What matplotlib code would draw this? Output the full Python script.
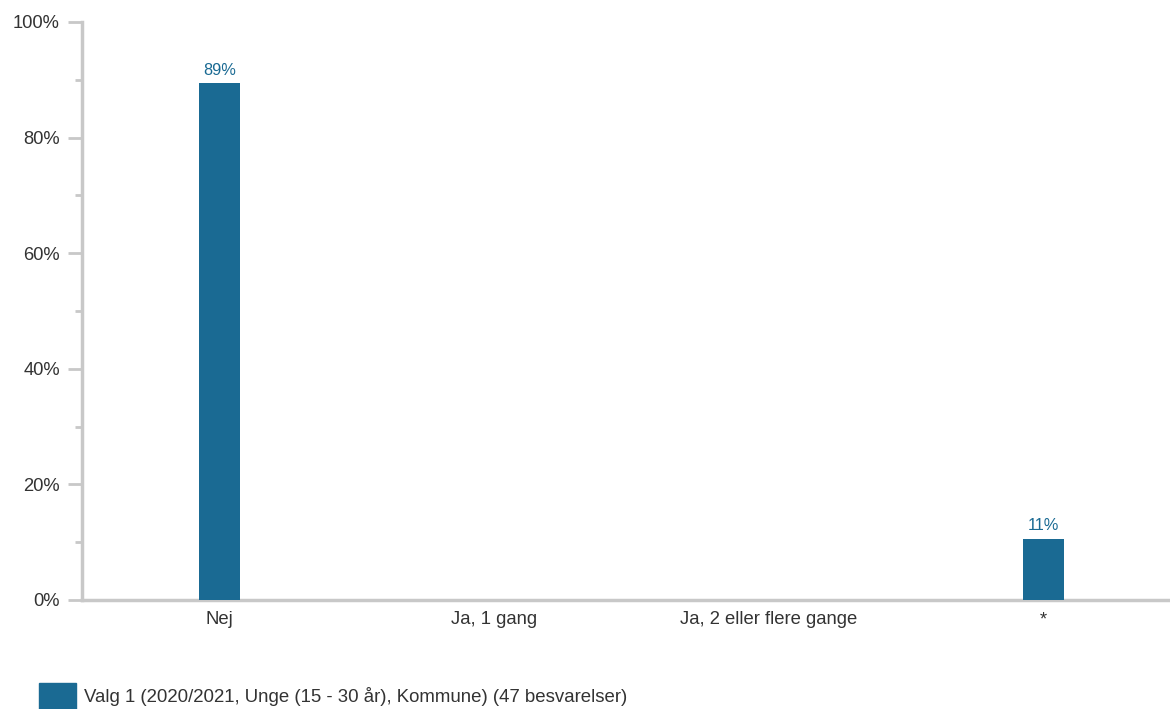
import matplotlib
matplotlib.use("Agg")
import matplotlib.pyplot as plt
from matplotlib.patches import Rectangle
from matplotlib.ticker import MultipleLocator, FuncFormatter

categories = ["Nej", "Ja, 1 gang", "Ja, 2 eller flere gange", "*"]
values = [89.36, 0, 0, 10.64]
labels = ["89%", None, None, "11%"]
series_name = "Valg 1 (2020/2021, Unge (15 - 30 år), Kommune) (47 besvarelser)"

bar_color = "#1a6a93"
axis_color = "#c8c8c8"
text_color = "#333333"

plt.rcParams['font.family'] = ['Liberation Sans', 'DejaVu Sans']

W, H = 1170, 709
fig = plt.figure(figsize=(W / 100, H / 100), dpi=100)
left, right, top, bottom = 82, 1181, 22, 600
ax = fig.add_axes([left / W, 1 - bottom / H, (right - left) / W, (bottom - top) / H])

x = range(len(categories))
ax.bar(x, values, width=0.149, color=bar_color, zorder=3)
for xi, v, lab in zip(x, values, labels):
    if lab:
        ax.text(xi, v + 0.9, lab, ha="center", va="bottom", fontsize=11.8, color=bar_color)

ax.set_xlim(-0.5, 3.5)
ax.set_ylim(0, 100)
ax.set_xticks(list(x))
ax.set_xticklabels(categories, fontsize=13.3, color=text_color)
ax.tick_params(axis="x", length=0, pad=8)
ax.yaxis.set_major_locator(MultipleLocator(20))
ax.yaxis.set_minor_locator(MultipleLocator(10))
ax.yaxis.set_major_formatter(FuncFormatter(lambda v, p: f"{int(v)}%"))
ax.tick_params(axis="y", which="major", length=10, width=2, color=axis_color,
               labelsize=13.2, labelcolor=text_color, pad=6)
ax.tick_params(axis="y", which="minor", length=5, width=2, color=axis_color)

for s in ["top", "right"]:
    ax.spines[s].set_visible(False)
for s in ["left", "bottom"]:
    ax.spines[s].set_color(axis_color)
    ax.spines[s].set_linewidth(2.5)

# legend
fig.patches.append(Rectangle((39 / W, 1 - 709 / H), 37 / W, 26 / H,
                             transform=fig.transFigure, color=bar_color))
fig.text(84 / W, 1 - 696 / H, series_name, fontsize=13.4, color=text_color,
         ha="left", va="center")

fig.savefig("out.png", dpi=100)
